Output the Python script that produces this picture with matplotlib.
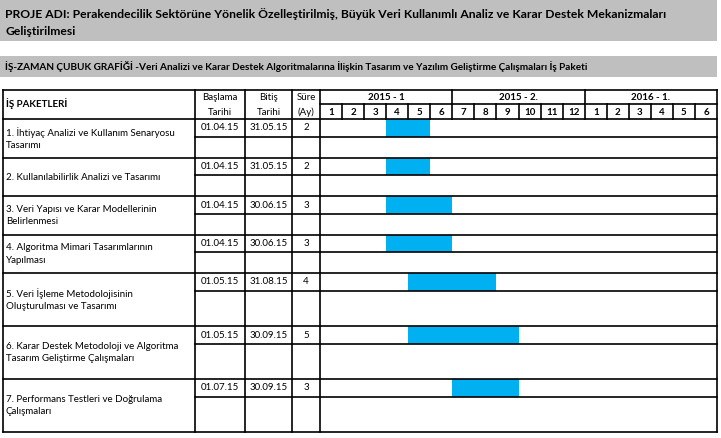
import matplotlib.pyplot as plt
from matplotlib.patches import Rectangle

# Veriler
baslik = ("PROJE ADI: Perakendecilik Sektörüne Yönelik Özelleştirilmiş, Büyük Veri Kullanımlı Analiz ve Karar Destek Mekanizmaları\n"
          "Geliştirilmesi")
alt_baslik = ("İŞ-ZAMAN ÇUBUK GRAFİĞİ -Veri Analizi ve Karar Destek Algoritmalarına İlişkin Tasarım ve Yazılım "
              "Geliştirme Çalışmaları İş Paketi")
paketler = [
    "1. İhtiyaç Analizi ve Kullanım Senaryosu\nTasarımı",
    "2. Kullanılabilirlik Analizi ve Tasarımı",
    "3. Veri Yapısı ve Karar Modellerinin\nBelirlenmesi",
    "4. Algoritma Mimari Tasarımlarının\nYapılması",
    "5. Veri İşleme Metodolojisinin\nOluşturulması ve Tasarımı",
    "6. Karar Destek Metodoloji ve Algoritma\nTasarım Geliştirme Çalışmaları",
    "7. Performans Testleri ve Doğrulama\nÇalışmaları",
]
baslama = ["01.04.15", "01.04.15", "01.04.15", "01.04.15", "01.05.15", "01.05.15", "01.07.15"]
bitis = ["31.05.15", "31.05.15", "30.06.15", "30.06.15", "31.08.15", "30.09.15", "30.09.15"]
sure = [2, 2, 3, 3, 4, 5, 3]
donemler = ["2015 - 1", "2015 - 2.", "2016 - 1."]
aylar = [1, 2, 3, 4, 5, 6, 7, 8, 9, 10, 11, 12, 1, 2, 3, 4, 5, 6]

# Yerlesim (piksel)
x_sol, x_bas, x_bit, x_sur, x_ay, x_sag = 3, 195, 245, 292, 320, 717
ay_w = (x_sag - x_ay) / len(aylar)
y_ust, y_orta, y_bas_alt = 90, 104, 119
satir_sinir = [119, 158, 196, 235, 273, 326, 379, 432]
alt_cizgi = [137, 175, 214, 252, 291, 344, 397]

mavi = "#00B0F0"
gri = "#BFBFBF"
font = ["Lato", "DejaVu Sans"]
plt.rcParams["font.family"] = font

fig = plt.figure(figsize=(7.21, 4.38), dpi=100)
ax = fig.add_axes([0, 0, 1, 1])
ax.set_xlim(0, 721)
ax.set_ylim(438, 0)
ax.axis("off")

# Baslik bantlari
ax.add_patch(Rectangle((0, 0), x_sag, 41, color=gri, lw=0))
ax.text(5, 22.5, baslik, fontsize=8.7, fontweight="bold", va="center", linespacing=1.75)
ax.add_patch(Rectangle((0, 56), x_sag, 21, color=gri, lw=0))
ax.text(5, 67, alt_baslik, fontsize=7.2, fontweight="bold", va="center")

# Cubuklar
for i in range(len(paketler)):
    g, a, y = baslama[i].split(".")
    ay_no = int(a) + (int(y) - 15) * 12
    x0 = x_ay + (ay_no - 1) * ay_w
    y0 = satir_sinir[i]
    ax.broken_barh([(x0, sure[i] * ay_w)], (y0, alt_cizgi[i] - y0), facecolors=mavi, zorder=1)

lw = 1.2
k = "black"
# Dis cerceve ve sutunlar
for x in [x_sol, x_bas, x_bit, x_sur, x_ay, x_sag]:
    ax.plot([x, x], [y_ust, satir_sinir[-1]], color=k, lw=lw, zorder=3)
ax.plot([x_sol, x_sag], [y_ust, y_ust], color=k, lw=lw, zorder=3)
for y in satir_sinir:
    ax.plot([x_sol, x_sag], [y, y], color=k, lw=lw, zorder=3)
for y in alt_cizgi:
    ax.plot([x_bas, x_sag], [y, y], color=k, lw=lw, zorder=3)
ax.plot([x_ay, x_sag], [y_orta, y_orta], color=k, lw=lw, zorder=3)
for j in range(1, len(aylar)):
    x = x_ay + j * ay_w
    top = y_ust if j % 6 == 0 else y_orta
    ax.plot([x, x], [top, y_bas_alt], color=k, lw=lw, zorder=3)

# Baslik satiri
fs = 7.0
ax.text(x_sol + 3, 104, "İŞ PAKETLERİ", fontsize=fs, fontweight="bold", va="center")
for xa, xb, t1, t2 in [(x_bas, x_bit, "Başlama", "Tarihi"), (x_bit, x_sur, "Bitiş", "Tarihi"),
                       (x_sur, x_ay, "Süre", "(Ay)")]:
    ax.text((xa + xb) / 2, 98, t1, fontsize=fs, ha="center", va="center")
    ax.text((xa + xb) / 2, 112.5, t2, fontsize=fs, ha="center", va="center")
for j, d in enumerate(donemler):
    ax.text(x_ay + (j * 6 + 3) * ay_w, 97.5, d, fontsize=fs, fontweight="bold", ha="center", va="center")
for j, m in enumerate(aylar):
    ax.text(x_ay + (j + 0.5) * ay_w, 112.5, str(m), fontsize=fs, fontweight="bold", ha="center", va="center")

# Satirlar
for i, p in enumerate(paketler):
    yc = (satir_sinir[i] + satir_sinir[i + 1]) / 2
    ax.text(x_sol + 3, yc, p, fontsize=fs, va="center", linespacing=1.55)
    yu = (satir_sinir[i] + alt_cizgi[i]) / 2
    ax.text((x_bas + x_bit) / 2, yu, baslama[i], fontsize=fs, ha="center", va="center")
    ax.text((x_bit + x_sur) / 2, yu, bitis[i], fontsize=fs, ha="center", va="center")
    ax.text((x_sur + x_ay) / 2, yu, str(sure[i]), fontsize=fs, ha="center", va="center")

fig.savefig("out.png", dpi=100)
